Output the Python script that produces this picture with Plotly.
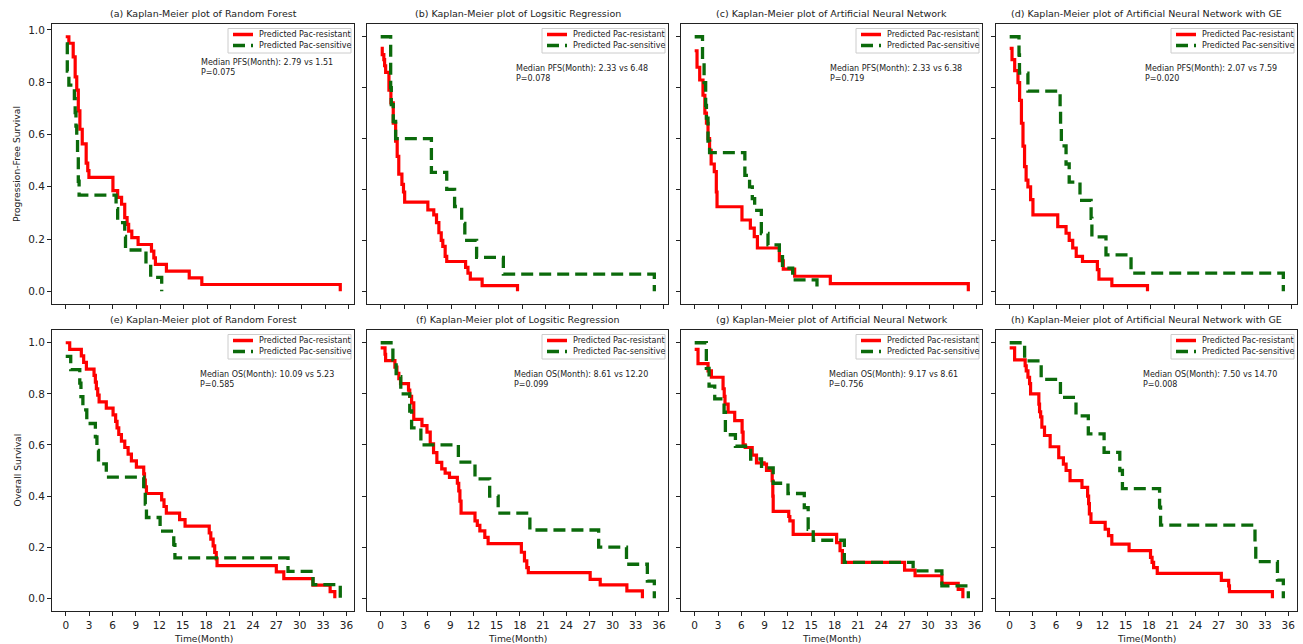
import plotly.graph_objects as go

W, H = 1303, 644

# ---------------- data ----------------
# (a) PFS, Random Forest
a_res_t = [0, 0.4, 0.95, 1.2, 1.4, 1.6, 1.8, 2.1, 2.6, 2.8, 2.95, 6.0, 6.6, 7.1, 7.5, 7.8, 8.0, 8.4, 9.2, 10.9, 11.2, 11.4, 12.8, 15.7, 17.3, 34.9]
a_res_s = [0.974, 0.949, 0.897, 0.82, 0.77, 0.69, 0.62, 0.564, 0.49, 0.462, 0.436, 0.385, 0.359, 0.333, 0.282, 0.256, 0.23, 0.205, 0.179, 0.154, 0.128, 0.103, 0.077, 0.051, 0.026, 0.0]
a_sen_t = [0, 0.2, 0.4, 1.1, 1.2, 1.3, 1.4, 1.5, 1.6, 1.7, 6.4, 6.6, 7.5, 7.6, 10.2, 10.8, 12.2]
a_sen_s = [0.947, 0.842, 0.789, 0.737, 0.684, 0.632, 0.579, 0.526, 0.421, 0.368, 0.316, 0.263, 0.21, 0.158, 0.105, 0.053, 0.0]

# (b) PFS, Logistic Regression
b_res_t = [0, 0.2, 0.4, 0.5, 0.63, 1.05, 1.3, 1.6, 1.9, 2.1, 2.3, 2.7, 2.9, 3.05, 6.0, 6.75, 7.1, 7.4, 7.7, 7.9, 8.2, 8.4, 10.8, 11.1, 11.4, 12.9, 17.4]
b_res_s = [0.954, 0.93, 0.91, 0.886, 0.86, 0.79, 0.74, 0.66, 0.59, 0.53, 0.46, 0.42, 0.39, 0.35, 0.32, 0.30, 0.27, 0.23, 0.20, 0.176, 0.137, 0.117, 0.094, 0.071, 0.048, 0.022, 0.0]
b_sen_t = [0, 1.27, 1.35, 1.6, 1.9, 6.45, 8.4, 9.4, 10.3, 10.7, 12.2, 15.6, 34.8]
b_sen_s = [1.0, 0.8, 0.733, 0.667, 0.6, 0.467, 0.4, 0.333, 0.267, 0.2, 0.133, 0.067, 0.0]

# (c) PFS, Artificial Neural Network
c_res_t = [0, 0.3, 0.64, 1.06, 1.3, 1.5, 1.7, 1.9, 2.1, 2.5, 2.76, 2.85, 6.03, 7.1, 7.6, 8.0, 10.8, 11.3, 12.75, 17.3, 34.9]
c_res_s = [0.945, 0.88, 0.83, 0.77, 0.70, 0.66, 0.60, 0.554, 0.50, 0.47, 0.39, 0.332, 0.28, 0.248, 0.215, 0.17, 0.12, 0.087, 0.059, 0.03, 0.0]
c_sen_t = [0, 1.0, 1.2, 1.4, 1.5, 1.7, 1.9, 6.4, 7.0, 7.35, 7.65, 8.5, 9.35, 10.8, 11.2, 12.5, 15.6]
c_sen_s = [1.0, 0.91, 0.82, 0.73, 0.68, 0.59, 0.545, 0.455, 0.41, 0.364, 0.318, 0.227, 0.182, 0.136, 0.091, 0.045, 0.0]

# (d) PFS, ANN with GE
d_res_t = [0, 0.3, 0.64, 1.06, 1.27, 1.5, 1.7, 1.9, 2.1, 2.33, 2.67, 2.97, 6.14, 7.2, 7.6, 8.05, 8.5, 9.3, 11.2, 11.4, 13.05, 17.6]
d_res_s = [0.954, 0.91, 0.867, 0.82, 0.75, 0.66, 0.57, 0.49, 0.437, 0.41, 0.36, 0.30, 0.254, 0.228, 0.2, 0.17, 0.137, 0.117, 0.085, 0.048, 0.022, 0.0]
d_sen_t = [0, 1.19, 1.25, 2.33, 6.44, 6.5, 6.6, 7.2, 7.6, 8.98, 10.4, 10.5, 12.3, 15.5, 34.95]
d_sen_s = [1.0, 0.929, 0.857, 0.786, 0.714, 0.643, 0.571, 0.5, 0.429, 0.357, 0.286, 0.214, 0.143, 0.071, 0.0]

# (e) OS, Random Forest
e_res_t = [0, 0.51, 2.0, 2.3, 2.65, 3.63, 3.8, 3.93, 4.1, 4.28, 5.2, 6.07, 6.4, 6.58, 6.8, 7.14, 7.57, 8.0, 8.42, 9.06, 10.0, 10.1, 10.2, 10.35, 12.3, 12.6, 12.9, 14.6, 15.3, 18.4, 18.6, 18.9, 19.1, 19.3, 19.4, 27.0, 27.96, 31.7, 33.9, 34.5]
e_res_s = [1.0, 0.974, 0.949, 0.923, 0.897, 0.872, 0.846, 0.82, 0.795, 0.769, 0.744, 0.718, 0.692, 0.667, 0.641, 0.615, 0.59, 0.564, 0.538, 0.513, 0.487, 0.462, 0.436, 0.41, 0.385, 0.359, 0.333, 0.308, 0.282, 0.256, 0.231, 0.205, 0.179, 0.154, 0.128, 0.103, 0.077, 0.051, 0.026, 0.0]
e_sen_t = [0, 0.64, 1.8, 1.95, 2.2, 2.7, 3.8, 4.0, 4.2, 5.2, 10.0, 10.2, 10.35, 12.1, 13.85, 14.0, 28.5, 31.7, 35.2]
e_sen_s = [0.947, 0.895, 0.842, 0.789, 0.737, 0.684, 0.632, 0.579, 0.526, 0.474, 0.421, 0.368, 0.316, 0.263, 0.21, 0.158, 0.105, 0.053, 0.0]

# (f) OS, Logistic Regression
f_res_t = [0, 0.56, 0.64, 1.84, 2.1, 2.35, 2.57, 3.6, 3.76, 4.0, 4.28, 5.34, 5.99, 6.41, 6.84, 7.27, 7.9, 8.34, 8.9, 9.92, 10.1, 10.25, 10.4, 12.2, 12.5, 12.83, 13.47, 13.9, 18.2, 18.6, 18.9, 19.1, 27.1, 28.4, 31.85, 33.86]
f_res_s = [0.98, 0.955, 0.93, 0.905, 0.88, 0.86, 0.84, 0.815, 0.79, 0.765, 0.70, 0.676, 0.65, 0.604, 0.57, 0.532, 0.506, 0.49, 0.473, 0.45, 0.42, 0.38, 0.333, 0.303, 0.285, 0.264, 0.238, 0.214, 0.18, 0.146, 0.12, 0.10, 0.074, 0.052, 0.029, 0.0]
f_sen_t = [0, 1.58, 2.0, 2.6, 3.76, 4.0, 5.2, 10.05, 12.2, 14.1, 15.2, 19.3, 28.2, 31.8, 34.5, 35.4]
f_sen_s = [1.0, 0.933, 0.867, 0.8, 0.733, 0.667, 0.6, 0.533, 0.467, 0.4, 0.333, 0.267, 0.2, 0.133, 0.067, 0.0]

# (g) OS, Artificial Neural Network
g_res_t = [0, 0.43, 1.72, 2.15, 3.65, 3.8, 3.9, 4.3, 5.15, 6.1, 6.23, 6.5, 7.4, 7.95, 8.93, 9.24, 9.97, 10.05, 10.1, 12.1, 12.24, 12.67, 18.26, 18.7, 19.0, 27.0, 28.35, 31.8, 33.9, 34.5]
g_res_s = [0.974, 0.918, 0.89, 0.865, 0.82, 0.79, 0.76, 0.728, 0.695, 0.65, 0.6, 0.59, 0.56, 0.53, 0.525, 0.5, 0.46, 0.40, 0.34, 0.32, 0.303, 0.25, 0.218, 0.186, 0.14, 0.11, 0.088, 0.058, 0.035, 0.0]
g_sen_t = [0, 1.5, 1.85, 2.58, 3.78, 3.95, 5.24, 7.2, 8.6, 10.1, 12.0, 14.1, 14.6, 15.25, 19.25, 28.1, 31.8, 35.2]
g_sen_s = [1.0, 0.9, 0.83, 0.78, 0.728, 0.64, 0.595, 0.545, 0.51, 0.45, 0.41, 0.355, 0.27, 0.227, 0.14, 0.107, 0.048, 0.0]

# (h) OS, ANN with GE
h_res_t = [0, 0.64, 2.0, 2.14, 2.36, 2.57, 2.7, 3.77, 3.86, 4.0, 4.16, 4.5, 5.23, 6.34, 6.94, 7.29, 7.8, 9.34, 10.07, 10.2, 10.3, 10.5, 12.34, 12.77, 13.2, 15.43, 18.2, 18.4, 18.6, 19.07, 27.35, 28.3, 28.4, 33.95]
h_res_s = [0.98, 0.933, 0.91, 0.89, 0.865, 0.84, 0.8, 0.76, 0.73, 0.71, 0.67, 0.637, 0.593, 0.55, 0.525, 0.5, 0.46, 0.434, 0.40, 0.37, 0.33, 0.297, 0.27, 0.245, 0.212, 0.186, 0.16, 0.14, 0.12, 0.097, 0.07, 0.048, 0.026, 0.0]
h_sen_t = [0, 1.93, 4.07, 6.56, 8.57, 10.16, 12.2, 14.23, 14.57, 19.37, 19.5, 31.7, 31.8, 34.6, 35.36]
h_sen_s = [1.0, 0.929, 0.857, 0.786, 0.714, 0.643, 0.571, 0.5, 0.429, 0.357, 0.286, 0.214, 0.143, 0.071, 0.0]

titles = [
    "(a) Kaplan-Meier plot of Random Forest",
    "(b) Kaplan-Meier plot of Logsitic Regression",
    "(c) Kaplan-Meier plot of Artificial Neural Network",
    "(d) Kaplan-Meier plot of Artificial Neural Network with GE",
    "(e) Kaplan-Meier plot of Random Forest",
    "(f) Kaplan-Meier plot of Logsitic Regression",
    "(g) Kaplan-Meier plot of Artificial Neural Network",
    "(h) Kaplan-Meier plot of Artificial Neural Network with GE",
]
median_notes = [
    "Median PFS(Month): 2.79 vs 1.51",
    "Median PFS(Month): 2.33 vs 6.48",
    "Median PFS(Month): 2.33 vs 6.38",
    "Median PFS(Month): 2.07 vs 7.59",
    "Median OS(Month): 10.09 vs 5.23",
    "Median OS(Month): 8.61 vs 12.20",
    "Median OS(Month): 9.17 vs 8.61",
    "Median OS(Month): 7.50 vs 14.70",
]
p_values = ["P=0.075", "P=0.078", "P=0.719", "P=0.020", "P=0.585", "P=0.099", "P=0.756", "P=0.008"]
series_names = ["Predicted Pac-resistant", "Predicted Pac-sensitive"]
row_ylabels = ["Progression-Free Survival", "Overall Survival"]
x_label = "Time(Month)"
x_ticks = [0, 3, 6, 9, 12, 15, 18, 21, 24, 27, 30, 33, 36]
y_ticks = [0.0, 0.2, 0.4, 0.6, 0.8, 1.0]
y_tick_labels = ["0.0", "0.2", "0.4", "0.6", "0.8", "1.0"]

res_t = [a_res_t, b_res_t, c_res_t, d_res_t, e_res_t, f_res_t, g_res_t, h_res_t]
res_s = [a_res_s, b_res_s, c_res_s, d_res_s, e_res_s, f_res_s, g_res_s, h_res_s]
sen_t = [a_sen_t, b_sen_t, c_sen_t, d_sen_t, e_sen_t, f_sen_t, g_sen_t, h_sen_t]
sen_s = [a_sen_s, b_sen_s, c_sen_s, d_sen_s, e_sen_s, f_sen_s, g_sen_s, h_sen_s]

# ---------------- layout / style ----------------
FONT = "DejaVu Sans"
RED = "#ff0000"
GREEN = "#0b6a0b"
col_px = [(52, 354), (367, 668), (681, 982), (996, 1297)]
row_px = [(24, 304), (330, 611)]

fig = go.Figure()
shapes = []
annotations = []
layout = {}

for i in range(8):
    r, c = divmod(i, 4)
    k = i + 1
    xa = "x" if k == 1 else f"x{k}"
    ya = "y" if k == 1 else f"y{k}"
    xname = "xaxis" if k == 1 else f"xaxis{k}"
    yname = "yaxis" if k == 1 else f"yaxis{k}"
    x0, x1 = col_px[c]
    y0, y1 = row_px[r]
    pw, ph = x1 - x0, y1 - y0

    fig.add_trace(go.Scatter(
        x=res_t[i], y=res_s[i], mode="lines", name=series_names[0],
        line=dict(color=RED, width=3.2, shape="hv"),
        xaxis=xa, yaxis=ya, showlegend=False, hoverinfo="skip"))
    fig.add_trace(go.Scatter(
        x=sen_t[i], y=sen_s[i], mode="lines", name=series_names[1],
        line=dict(color=GREEN, width=3.3, shape="hv", dash="12px,6px"),
        xaxis=xa, yaxis=ya, showlegend=False, hoverinfo="skip"))

    xmax = max(max(res_t[i]), max(sen_t[i]))
    ymax = max(max(res_s[i]), max(sen_s[i]))

    layout[xname] = dict(
        domain=[x0 / W, x1 / W], anchor=ya,
        range=[-0.05 * xmax, 1.05 * xmax],
        tickmode="array", tickvals=x_ticks, ticktext=[str(v) for v in x_ticks],
        showticklabels=(r == 1),
        ticks="outside", ticklen=4, tickwidth=0.9, tickcolor="#222",
        showline=True, linecolor="#222", linewidth=1, mirror=True,
        showgrid=False, zeroline=False,
        tickfont=dict(family=FONT, size=10.5, color="#222"),
    )
    layout[yname] = dict(
        domain=[1 - y1 / H, 1 - y0 / H], anchor=xa,
        range=[-0.05 * ymax, 1.05 * ymax],
        tickmode="array", tickvals=y_ticks, ticktext=y_tick_labels,
        showticklabels=(c == 0),
        ticks="outside", ticklen=4, tickwidth=0.9, tickcolor="#222",
        showline=True, linecolor="#222", linewidth=1, mirror=True,
        showgrid=False, zeroline=False,
        tickfont=dict(family=FONT, size=10.5, color="#222"),
    )

    # title
    annotations.append(dict(
        text=titles[i], xref="paper", yref="paper",
        x=(x0 + x1) / 2 / W, y=1 - (y0 - 10.5) / H,
        xanchor="center", yanchor="middle", showarrow=False,
        font=dict(family=FONT, size=9.5, color="#222")))

    # median / p annotation (data coordinates)
    annotations.append(dict(
        text=median_notes[i] + "<br>" + p_values[i], xref=xa, yref=ya,
        x=17, y=0.857, xanchor="left", yanchor="middle", align="left",
        showarrow=False, font=dict(family=FONT, size=8, color="#222")))

    # legend box (drawn in axis-domain coordinates)
    xd = f"{xa} domain"
    yd = f"{ya} domain"
    fx = lambda px: 1 - px / pw
    fy = lambda px: 1 - px / ph
    shapes.append(dict(type="rect", xref=xd, yref=yd,
                       x0=fx(126), x1=fx(3), y0=fy(4.5), y1=fy(29),
                       line=dict(color="#cccccc", width=1), fillcolor="rgba(255,255,255,0.85)"))
    shapes.append(dict(type="line", xref=xd, yref=yd,
                       x0=fx(121), x1=fx(101), y0=fy(10.5), y1=fy(10.5),
                       line=dict(color=RED, width=3.5)))
    shapes.append(dict(type="line", xref=xd, yref=yd,
                       x0=fx(121), x1=fx(101), y0=fy(21.5), y1=fy(21.5),
                       line=dict(color=GREEN, width=3.5, dash="12px,6px")))
    for j, yy in enumerate([10.5, 21.5]):
        annotations.append(dict(
            text=series_names[j], xref=xd, yref=yd,
            x=fx(97.5), y=fy(yy), xanchor="left", yanchor="middle",
            showarrow=False, font=dict(family=FONT, size=8, color="#222")))

    # axis labels
    if c == 0:
        annotations.append(dict(
            text=row_ylabels[r], xref="paper", yref="paper",
            x=17 / W, y=1 - (y0 + y1) / 2 / H, textangle=-90,
            xanchor="center", yanchor="middle", showarrow=False,
            font=dict(family=FONT, size=9.2, color="#222")))
    if r == 1:
        annotations.append(dict(
            text=x_label, xref="paper", yref="paper",
            x=(x0 + x1) / 2 / W, y=1 - 638 / H,
            xanchor="center", yanchor="middle", showarrow=False,
            font=dict(family=FONT, size=9.2, color="#222")))

fig.update_layout(
    width=W, height=H,
    margin=dict(l=0, r=0, t=0, b=0),
    paper_bgcolor="white", plot_bgcolor="white",
    showlegend=False,
    shapes=shapes, annotations=annotations,
    font=dict(family=FONT, color="#222"),
    **layout,
)

fig.write_html(
    "out.html",
    config={"displayModeBar": False},
    post_script="document.body.style.margin='0';document.body.style.overflow='hidden';",
)
